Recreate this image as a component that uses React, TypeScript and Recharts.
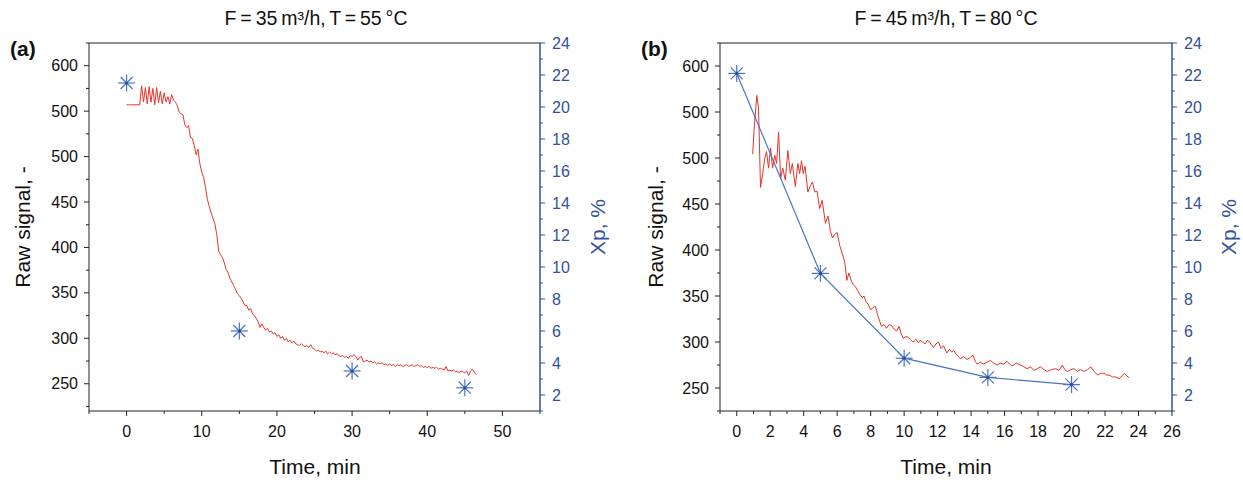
import React from "react";
import { ComposedChart, Line, XAxis, YAxis, ReferenceLine } from "recharts";

const FONT = '"Liberation Sans", Arial, Helvetica, sans-serif';
const AXIS_BLUE = "#33519c";
const STAR_BLUE = "#4a72c4";
const RED = "#e8332a";
const BLACK = "#222";

// ---------- Panel (a): F = 35 m3/h, T = 55 °C ----------
// raw signal sampled every 0.25 min, rows = 2 min each
const rawStepA = 0.25;
const rawA = [
  557, 557, 557, 557, 557, 557, 557, 557, // 0
  578, 560, 576, 558, 577, 560, 575, 557, // 2
  576, 559, 572, 558, 570, 560, 566, 558, // 4
  568, 562, 560, 556, 549, 547, 546, 535, // 6
  532, 534, 521, 520, 512, 502, 508, 492, // 8
  483, 477, 466, 453, 445, 438, 432, 426, // 10
  414, 396, 392, 389, 383, 376, 372, 366, // 12
  362, 358, 354, 349, 347, 344, 340, 336, // 14
  336, 331, 333, 327, 325, 322, 318, 312, // 16
  316, 312, 309, 311, 307, 308, 305, 306, // 18
  302, 304, 300, 302, 298, 300, 296, 298, // 20
  295, 297, 294, 293, 292, 294, 292, 291, // 22
  292, 290, 293, 289, 288, 286, 287, 285, // 24
  286, 284, 286, 283, 285, 283, 284, 282, // 26
  283, 281, 280, 281, 279, 280, 278, 281, // 28
  280, 282, 280, 276, 279, 280, 274, 275, // 30
  276, 274, 275, 273, 274, 272, 273, 272, // 32
  273, 271, 272, 270, 272, 270, 271, 269, // 34
  271, 270, 271, 269, 270, 271, 269, 270, // 36
  271, 269, 270, 271, 269, 270, 268, 269, // 38
  268, 269, 267, 268, 267, 268, 266, 267, // 40
  266, 265, 269, 264, 265, 264, 265, 263, // 42
  264, 262, 264, 263, 262, 264, 259, 264, // 44
  266, 263, 260, // 46
];
const xpTimesA = [0, 15, 30, 45];
const xpValuesA = [21.5, 6.0, 3.5, 2.45];

// ---------- Panel (b): F = 45 m3/h, T = 80 °C ----------
const rawTimesB = [
  0.95, 1.05, 1.2, 1.3, 1.42, 1.55, 1.68, 1.78, 1.9, 2.02, 2.14, 2.27, 2.38, 2.5, 2.62, 2.75, 2.9, 3.05, 3.2, 3.32,
  3.5, 3.65, 3.76, 3.87, 3.97, 4.08, 4.25, 4.4, 4.52, 4.66, 4.8, 4.95, 5.1, 5.3, 5.45, 5.6, 5.72, 5.85, 6.0, 6.15,
  6.3, 6.45, 6.58, 6.7, 6.85, 6.97, 7.1, 7.22, 7.35, 7.5, 7.6, 7.72, 7.85, 8.0, 8.12, 8.28, 8.42, 8.55, 8.65, 8.8,
  8.95, 9.1, 9.25, 9.4, 9.55, 9.7, 9.82, 9.95, 10.1, 10.25, 10.4, 10.55, 10.7, 10.85, 10.95, 11.1, 11.25, 11.4, 11.55, 11.75,
  11.9, 12.05, 12.2, 12.35, 12.55, 12.7, 12.85, 12.95, 13.1, 13.35, 13.55, 13.75, 13.95, 14.1, 14.25, 14.35, 14.55, 14.75, 14.95, 15.15,
  15.35, 15.55, 15.75, 15.95, 16.15, 16.3, 16.45, 16.7, 16.95, 17.15, 17.35, 17.55, 17.75, 17.95, 18.15, 18.35, 18.55, 18.8, 19.05, 19.25,
  19.45, 19.6, 19.75, 19.95, 20.15, 20.35, 20.55, 20.75, 20.95, 21.15, 21.35, 21.55, 21.75, 21.95, 22.1, 22.25, 22.45, 22.65, 22.85, 23.0,
  23.15, 23.3, 23.45,
];
const rawB = [
  504, 534, 568, 555, 468, 483, 500, 507, 489, 511, 489, 503, 494, 528, 478, 489, 476, 508, 483, 494,
  469, 494, 483, 497, 483, 491, 463, 470, 474, 463, 464, 445, 454, 429, 437, 420, 413, 417, 419, 405,
  396, 387, 367, 375, 366, 362, 360, 356, 352, 348, 350, 344, 341, 335, 337, 339, 329, 322, 317, 319,
  315, 319, 318, 314, 312, 317, 309, 304, 306, 305, 302, 300, 303, 299, 302, 300, 298, 302, 299, 294,
  298, 300, 293, 296, 288, 292, 289, 291, 287, 282, 284, 281, 283, 286, 279, 276, 278, 276, 278, 280,
  277, 275, 277, 276, 279, 276, 274, 277, 275, 273, 271, 273, 269, 271, 273, 270, 268, 270, 271, 269,
  275, 270, 268, 270, 271, 268, 270, 268, 270, 273, 268, 264, 266, 266, 264, 264, 262, 262, 260, 263,
  266, 263, 261,
];
const xpTimesB = [0, 5, 10, 15, 20];
const xpValuesB = [22.1, 9.6, 4.3, 3.1, 2.65];

// ---------- axes ----------
const leftTickValuesA = [225, 250, 275, 300, 325, 350, 375, 400, 425, 450, 475, 500, 525, 550, 575, 600, 625];
const leftTickValuesB = leftTickValuesA;
const leftMajorValues = [250, 300, 350, 400, 450, 500, 550, 600];
const leftMajorLabels = ["250", "300", "350", "400", "450", "500", "500", "600"];
const rightTickValues = [1, 2, 3, 4, 5, 6, 7, 8, 9, 10, 11, 12, 13, 14, 15, 16, 17, 18, 19, 20, 21, 22, 23, 24];
const xTicksA = [-5, 0, 5, 10, 15, 20, 25, 30, 35, 40, 45, 50, 55];
const xMajorA = [0, 10, 20, 30, 40, 50];
const xTicksB = [-1, 0, 1, 2, 3, 4, 5, 6, 7, 8, 9, 10, 11, 12, 13, 14, 15, 16, 17, 18, 19, 20, 21, 22, 23, 24, 25, 26];
const xMajorB = [0, 2, 4, 6, 8, 10, 12, 14, 16, 18, 20, 22, 24, 26];

const rawDataA = rawA.map((v, i) => ({ t: i * rawStepA, raw: v }));
const rawDataB = rawB.map((v, i) => ({ t: rawTimesB[i], raw: v }));
const xpDataA = xpTimesA.map((t, i) => ({ t, xp: xpValuesA[i] }));
const xpDataB = xpTimesB.map((t, i) => ({ t, xp: xpValuesB[i] }));

const TICK_FS = 16;

const LeftTick = (props: any) => {
  const { x, y, payload } = props;
  const v = payload.value;
  const idx = leftMajorValues.indexOf(v);
  const major = idx >= 0;
  return (
    <g>
      <line x1={x} x2={x - (major ? 5 : 3)} y1={y} y2={y} stroke={BLACK} strokeWidth={1} />
      {major && (
        <text x={x - 11} y={y} textAnchor="end" dominantBaseline="central" fontSize={TICK_FS} fontFamily={FONT} fill="#111">
          {leftMajorLabels[idx]}
        </text>
      )}
    </g>
  );
};

const RightTick = (props: any) => {
  const { x, y, payload } = props;
  const v = payload.value;
  const major = v % 2 === 0;
  return (
    <g>
      <line x1={x} x2={x + (major ? 5 : 3)} y1={y} y2={y} stroke={AXIS_BLUE} strokeWidth={1} />
      {major && (
        <text x={x + 12} y={y} textAnchor="start" dominantBaseline="central" fontSize={TICK_FS} fontFamily={FONT} fill={AXIS_BLUE}>
          {String(v)}
        </text>
      )}
    </g>
  );
};

const makeBottomTick = (majors: number[]) => (props: any) => {
  const { x, y, payload } = props;
  const v = payload.value;
  const major = majors.indexOf(v) >= 0;
  return (
    <g>
      <line x1={x} x2={x} y1={y} y2={y + (major ? 5 : 3)} stroke={BLACK} strokeWidth={1} />
      {major && (
        <text x={x} y={y + 20} textAnchor="middle" dominantBaseline="central" fontSize={TICK_FS} fontFamily={FONT} fill="#111">
          {String(v)}
        </text>
      )}
    </g>
  );
};

const Star = (props: any) => {
  const { cx, cy } = props;
  if (cx == null || cy == null) return <g />;
  const r = 8.5;
  const d = r * 0.7071;
  return (
    <g>
      <line x1={cx - r} x2={cx + r} y1={cy} y2={cy} stroke={STAR_BLUE} strokeWidth={1.2} />
      <line x1={cx} x2={cx} y1={cy - r} y2={cy + r} stroke={STAR_BLUE} strokeWidth={1.2} />
      <line x1={cx - d} x2={cx + d} y1={cy - d} y2={cy + d} stroke={STAR_BLUE} strokeWidth={1.2} />
      <line x1={cx - d} x2={cx + d} y1={cy + d} y2={cy - d} stroke={STAR_BLUE} strokeWidth={1.2} />
      <circle cx={cx} cy={cy} r={1.6} fill="#2a4f9a" />
    </g>
  );
};

const renderStarDot = (props: any) => <Star key={`s-${props.index}`} cx={props.cx} cy={props.cy} />;

type PanelProps = {
  width: number;
  leftW: number;
  rightW: number;
  rawData: { t: number; raw: number }[];
  xpData: { t: number; xp: number }[];
  xDomain: [number, number];
  xTicks: number[];
  xMajor: number[];
  yLeftDomain: [number, number];
  yLeftTicks: number[];
  connect: boolean;
};

function Panel(p: PanelProps) {
  const H = 482;
  return (
    <ComposedChart width={p.width} height={H} margin={{ top: 43, right: 0, bottom: 0, left: 0 }}>
      <XAxis
        dataKey="t"
        type="number"
        domain={p.xDomain}
        ticks={p.xTicks}
        interval={0}
        allowDataOverflow
        height={71}
        tickSize={0}
        tickMargin={0}
        tickLine={false}
        axisLine={{ stroke: BLACK, strokeWidth: 1 }}
        tick={makeBottomTick(p.xMajor)}
      />
      <YAxis
        yAxisId="left"
        orientation="left"
        type="number"
        domain={p.yLeftDomain}
        ticks={p.yLeftTicks}
        interval={0}
        allowDataOverflow
        width={p.leftW}
        tickSize={0}
        tickMargin={0}
        tickLine={false}
        axisLine={{ stroke: BLACK, strokeWidth: 1 }}
        tick={LeftTick}
      />
      <YAxis
        yAxisId="right"
        orientation="right"
        type="number"
        domain={[1, 24]}
        ticks={rightTickValues}
        interval={0}
        allowDataOverflow
        width={p.rightW}
        tickSize={0}
        tickMargin={0}
        tickLine={false}
        axisLine={{ stroke: AXIS_BLUE, strokeWidth: 1.5 }}
        tick={RightTick}
      />
      <ReferenceLine yAxisId="left" y={p.yLeftDomain[1]} stroke={BLACK} strokeWidth={1} />
      <Line
        data={p.rawData}
        yAxisId="left"
        dataKey="raw"
        type="linear"
        stroke={RED}
        strokeWidth={1}
        dot={false}
        activeDot={false}
        isAnimationActive={false}
      />
      <Line
        data={p.xpData}
        yAxisId="right"
        dataKey="xp"
        type="linear"
        stroke={p.connect ? STAR_BLUE : "none"}
        strokeWidth={1.2}
        dot={renderStarDot}
        activeDot={false}
        isAnimationActive={false}
      />
    </ComposedChart>
  );
}

const txt = (x: number, y: number, s: string, extra: any = {}) => (
  <text x={x} y={y} textAnchor="middle" dominantBaseline="central" fontFamily={FONT} fill="#111" {...extra}>
    {s}
  </text>
);

export default function App() {
  return (
    <div style={{ position: "absolute", left: 0, top: 0, width: 1243, height: 482, background: "#fff" }}>
      <div style={{ position: "absolute", left: 0, top: 0 }}>
        <Panel
          width={620}
          leftW={89}
          rightW={80}
          rawData={rawDataA}
          xpData={xpDataA}
          xDomain={[-5, 55]}
          xTicks={xTicksA}
          xMajor={xMajorA}
          yLeftDomain={[220, 625]}
          yLeftTicks={leftTickValuesA.filter((v) => v >= 220)}
          connect={false}
        />
      </div>
      <div style={{ position: "absolute", left: 620, top: 0 }}>
        <Panel
          width={623}
          leftW={100}
          rightW={71}
          rawData={rawDataB}
          xpData={xpDataB}
          xDomain={[-1, 26]}
          xTicks={xTicksB}
          xMajor={xMajorB}
          yLeftDomain={[225, 625]}
          yLeftTicks={leftTickValuesB}
          connect={true}
        />
      </div>
      <svg width={1243} height={482} style={{ position: "absolute", left: 0, top: 0, pointerEvents: "none" }}>
        {txt(316, 18, "F = 35 m³/h, T = 55 °C", { fontSize: 19.5, wordSpacing: -1.5 })}
        {txt(946, 18, "F = 45 m³/h, T = 80 °C", { fontSize: 19.5, wordSpacing: -1.5 })}
        {txt(10, 48, "(a)", { fontSize: 21, fontWeight: "bold", textAnchor: "start" })}
        {txt(641, 48, "(b)", { fontSize: 21, fontWeight: "bold", textAnchor: "start" })}
        {txt(22, 227, "Raw signal, -", { fontSize: 21, transform: "rotate(-90 22 227)" })}
        {txt(655, 227, "Raw signal, -", { fontSize: 21, transform: "rotate(-90 655 227)" })}
        {txt(597, 227, "Xp, %", { fontSize: 21, fill: AXIS_BLUE, transform: "rotate(-90 597 227)" })}
        {txt(1228, 227, "Xp, %", { fontSize: 21, fill: AXIS_BLUE, transform: "rotate(-90 1228 227)" })}
        {txt(315, 466, "Time, min", { fontSize: 21 })}
        {txt(946, 466, "Time, min", { fontSize: 21 })}
      </svg>
    </div>
  );
}
